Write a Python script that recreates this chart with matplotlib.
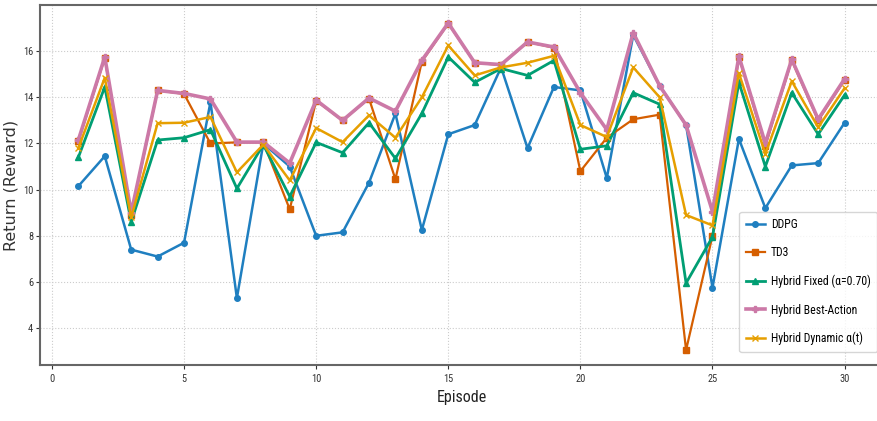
import matplotlib
matplotlib.use("Agg")
import matplotlib.pyplot as plt
from matplotlib import font_manager

episodes = list(range(1, 31))

ddpg = [10.15, 11.45, 7.4, 7.1, 7.7, 13.8, 5.3, 12.0, 11.0, 8.0,
        8.15, 10.3, 13.3, 8.25, 12.4, 12.8, 15.3, 11.8, 14.45, 14.3,
        10.5, 16.7, 14.5, 12.8, 5.75, 12.2, 9.2, 11.05, 11.15, 12.9]
td3 = [12.1, 15.7, 8.9, 14.3, 14.15, 12.0, 12.05, 12.05, 9.15, 13.85,
       13.0, 13.95, 10.45, 15.55, 17.2, 15.5, 15.4, 16.4, 16.15, 10.8,
       12.25, 13.05, 13.25, 3.05, 8.0, 15.75, 11.9, 15.6, 13.0, 14.75]
hyb_fixed = [11.4, 14.45, 8.6, 12.15, 12.25, 12.6, 10.05, 11.95, 9.7, 12.05,
             11.6, 12.9, 11.35, 13.3, 15.75, 14.65, 15.25, 14.95, 15.6, 11.75,
             11.9, 14.2, 13.7, 5.95, 7.95, 14.65, 11.0, 14.2, 12.4, 14.1]
hyb_best = [12.15, 15.75, 9.0, 14.3, 14.17, 13.93, 12.06, 12.06, 11.15, 13.88,
            13.0, 13.97, 13.4, 15.6, 17.22, 15.5, 15.42, 16.4, 16.18, 14.2,
            12.6, 16.8, 14.5, 12.8, 9.05, 15.78, 12.0, 15.65, 13.05, 14.8]
hyb_dyn = [11.8, 14.85, 8.8, 12.88, 12.9, 13.15, 10.75, 11.95, 10.4, 12.67,
           12.06, 13.22, 12.25, 14.0, 16.25, 14.95, 15.3, 15.5, 15.8, 12.8,
           12.28, 15.3, 14.0, 8.9, 8.45, 15.05, 11.55, 14.7, 12.7, 14.4]

labels = ["DDPG", "TD3", "Hybrid Fixed (α=0.70)", "Hybrid Best-Action", "Hybrid Dynamic α(t)"]
colors = ["#1f7fc0", "#D55E00", "#009E73", "#CC79A7", "#E69F00"]
markers = ["o", "s", "^", "P", "x"]
series = [ddpg, td3, hyb_fixed, hyb_best, hyb_dyn]
lws = [1.8, 1.6, 2.0, 2.6, 1.8]

names = {f.name for f in font_manager.fontManager.ttflist}
narrow = None
for cand in ["Liberation Sans Narrow", "DejaVu Sans Condensed", "Roboto Condensed"]:
    if cand in names:
        narrow = cand
        break
fam = [narrow, 'DejaVu Sans'] if narrow else ['DejaVu Sans']
plt.rcParams['font.family'] = fam

fig = plt.figure(figsize=(8.78, 4.21), dpi=100)
ax = fig.add_axes([0.0456, 0.133, 0.96, 0.855])

for y, lab, c, m, lw in zip(series, labels, colors, markers, lws):
    ax.plot(episodes, y, color=c, marker=m, markersize=4, linewidth=lw, label=lab)

ax.set_xlim(-0.45, 31.45)
ax.set_ylim(2.4, 18.0)
ax.set_xticks([0, 5, 10, 15, 20, 25, 30])
ax.set_yticks([4, 6, 8, 10, 12, 14, 16])
ax.tick_params(labelsize=7.5, colors="#333333", length=3)
ax.tick_params(axis='y', pad=2)
ax.grid(True, linestyle=":", color="#cccccc", linewidth=0.8)
for s in ax.spines.values():
    s.set_color("#666666")
    s.set_linewidth(1.5)

ax.set_xlabel("Episode", fontsize=11.5, labelpad=4, color="#222222")
ax.set_ylabel("Return (Reward)", fontsize=11.5, family=['DejaVu Sans'],
              fontweight='medium', color="#333333")
ax.yaxis.set_label_coords(-0.025, 0.5)

leg = ax.legend(loc="lower right", bbox_to_anchor=(1.0, 0.02), fontsize=8.5,
                frameon=True, borderpad=0.55, labelspacing=1.3, handlelength=1.6,
                handletextpad=0.5)
leg.get_frame().set_edgecolor("#cccccc")

fig.savefig("out.png", dpi=100)
